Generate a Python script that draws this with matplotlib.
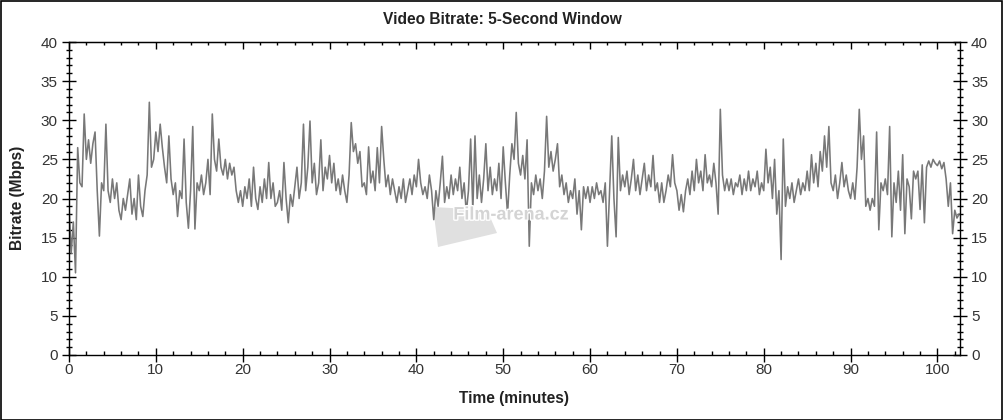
import numpy as np
import matplotlib
matplotlib.use("Agg")
import matplotlib.pyplot as plt
import matplotlib.patheffects as pe
from matplotlib.ticker import MultipleLocator
from matplotlib.patches import Polygon, Rectangle

plt.rcParams['font.family'] = ['Liberation Sans', 'DejaVu Sans']

# ---- data (Mbps, sampled every 0.25 minute) ----
step_min = 0.25
bitrate = [
    19, 13, 17, 10.5,   26.5, 22, 21.5, 30.8,   25, 27.5, 24.5, 27,   28.5, 21, 15.2, 22,
    21, 29.5, 21, 19.5,   22.5, 20, 22, 18.5,   17.3, 20, 18.5, 20.5,   22.5, 18, 20, 17.3,
    23, 19, 17.7, 21,   23, 32.3, 24, 25,   28.5, 26, 29.5, 26.5,   24, 22, 28, 22.5,
    20.5, 22, 17.7, 21,   20, 27.6, 19.5, 16.2,   21, 29.2, 16.1, 22,   21, 23, 20.5, 22,
    25, 20.5, 30.8, 25,   23.5, 27.6, 24, 23,   25, 22.5, 24.5, 23,   24, 21, 19.5, 21,
    19, 21.5, 20, 22.5,   19, 24, 20, 18.6,   21.5, 19.5, 22.5, 20,   24.6, 20, 22, 19,
    19.5, 21, 18.5, 24.6,   20, 16.9, 20.5, 19,   21.5, 24, 20, 22,   29.5, 21, 24, 29.9,
    22, 24.5, 20.5, 22,   27.5, 21, 24, 22.5,   25.5, 22, 24.5, 21,   22.5, 20.5, 23, 21,
    19.5, 23, 29.7, 26,   27, 24.5, 26, 21.5,   22, 20.5, 26.6, 22,   23.5, 21, 26.5, 22,
    29.2, 25, 21.5, 23,   20.5, 22.5, 21, 19.5,   21.5, 20, 22.5, 19.5,   21, 22.5, 20.5, 23,
    21.5, 25, 22, 20.5,   21.5, 20, 23, 21,   17.3, 21, 19, 22,   25.4, 19.5, 21.5, 20,
    23, 20.5, 22.5, 21,   24, 20, 22, 18.2,   21, 27.6, 18.5, 28,   20, 23, 19.5, 22.5,
    27, 21, 24, 20.5,   22.5, 21, 24.5, 20,   26.6, 22, 18, 23,   27, 25, 31, 24.5,
    23, 25.5, 22.5, 27.5,   13.9, 22, 20.5, 23,   21, 22.5, 20, 23.5,   30.5, 24, 26, 23.5,
    25, 27, 21.5, 23,   20.5, 22, 19.5, 21,   20, 22.5, 18, 21,   16, 21.5, 20, 21.5,
    19.5, 21.5, 20, 22,   20.5, 21, 19.5, 22,   13.9, 21, 28, 20,   15.1, 27.8, 21, 23,
    21.5, 23.5, 20.5, 22.5,   25, 21, 23, 20.5,   22.5, 24.5, 21, 23,   21.5, 25.5, 21, 22,
    19.5, 22, 19.5, 21,   23, 21.5, 25.6, 22,   21, 18.5, 20.5, 18.3,   21, 22.5, 20.5, 23.5,
    21, 25, 22, 23.5,   21, 25.6, 22, 23,   21.5, 24.5, 22, 18,   31.4, 23, 21, 22.5,
    21, 22.5, 20.5, 22,   21.5, 23, 20.5, 22.5,   21, 23.5, 21, 22.5,   21.5, 23.5, 20.5, 22,
    21, 26.3, 22, 24,   20, 25, 18, 21,   12.2, 27.6, 19, 21.5,   20, 22, 19.5, 21,
    22.5, 20.5, 22, 21,   23.5, 21, 25.6, 22,   24.5, 21.5, 26, 23.5,   28, 24, 29.2, 22,
    21, 23, 20, 22,   24.6, 21.5, 23, 21,   20, 22, 19.9, 24,   31.4, 25, 28, 19,
    20, 18.5, 20, 19,   28.5, 16, 22, 21,   22.5, 20.5, 29.2, 15.1,   22, 19.5, 23.5, 18.5,
    25.6, 15.5, 22.5, 21.5,   17.4, 23.5, 22.5, 23.5,   18.6, 24.3, 16.9, 24,   24.8, 24, 25, 24.5,
    24.2, 24.8, 23.8, 24.6,   22.5, 19, 22, 15.5,   18.5, 17.5, 18,
]
time_min = np.arange(len(bitrate)) * step_min

title = "Video Bitrate: 5-Second Window"
xlabel = "Time (minutes)"
ylabel = "Bitrate (Mbps)"
watermark = "Film-arena.cz"

# ---- figure ----
W, H = 1004, 420
fig = plt.figure(figsize=(W / 100, H / 100), dpi=100)
fig.patch.set_facecolor('white')
fig.add_artist(Rectangle((0.0005, 0.001), 0.998, 0.997, transform=fig.transFigure,
                         fill=False, edgecolor='black', linewidth=1.2))

L, R, B, T = 69, 960, 355, 42
ax = fig.add_axes([L / W, 1 - B / H, (R - L) / W, (B - T) / H])


def axfrac(x, y):
    return ((x - L) / (R - L), (B - y) / (B - T))


# watermark
ax.add_patch(Polygon([axfrac(x, y) for x, y in
                      [(433, 207), (487, 210), (497, 233), (438, 247)]],
                     closed=True, transform=ax.transAxes, facecolor='#e0e0e0',
                     edgecolor='none', zorder=1))

ax.plot(time_min, bitrate, color='#787878', linewidth=1.15, zorder=2)

tx, ty = axfrac(511, 215)
ax.text(tx, ty, watermark, transform=ax.transAxes,
        ha='center', va='center', fontsize=13, fontweight='bold', color='#d4d4d4',
        zorder=3, path_effects=[pe.withStroke(linewidth=2, foreground='white')])

ax.set_xlim(0, 102.6)
ax.set_ylim(0, 40)

ax.xaxis.set_major_locator(MultipleLocator(10))
ax.xaxis.set_minor_locator(MultipleLocator(2))
ax.yaxis.set_major_locator(MultipleLocator(5))
ax.yaxis.set_minor_locator(MultipleLocator(1))

ax.tick_params(axis='x', which='major', direction='inout', length=10, width=1,
               top=False, labelsize=11, labelcolor='#333333', pad=1)
ax.tick_params(axis='x', which='minor', direction='in', length=3, width=1, top=False)
ax.tick_params(axis='y', which='major', direction='inout', length=10, width=1,
               left=True, right=True, labelleft=True, labelright=True,
               labelsize=11, labelcolor='#333333', pad=3)
ax.tick_params(axis='y', which='minor', direction='inout', length=5, width=1,
               left=True, right=True)

sec = ax.secondary_xaxis('top')
sec.xaxis.set_major_locator(MultipleLocator(10))
sec.xaxis.set_minor_locator(MultipleLocator(2))
sec.tick_params(which='major', direction='in', length=5, width=1, labeltop=False)
sec.tick_params(which='minor', direction='in', length=2.5, width=1)

for s in ax.spines.values():
    s.set_linewidth(1)
    s.set_color('black')

fig.text(0.5, 1 - 19 / H, title, ha='center', va='center', fontsize=11.2,
         fontweight='bold', color='#222222')
fig.text((L + R) / 2 / W, 1 - 398 / H, xlabel, ha='center', va='center',
         fontsize=11.2, fontweight='bold', color='#222222')
fig.text(18 / W, 1 - 198 / H, ylabel, ha='center', va='center', rotation=90,
         fontsize=11.2, fontweight='bold', color='#222222')

fig.savefig('out.png', dpi=100)
